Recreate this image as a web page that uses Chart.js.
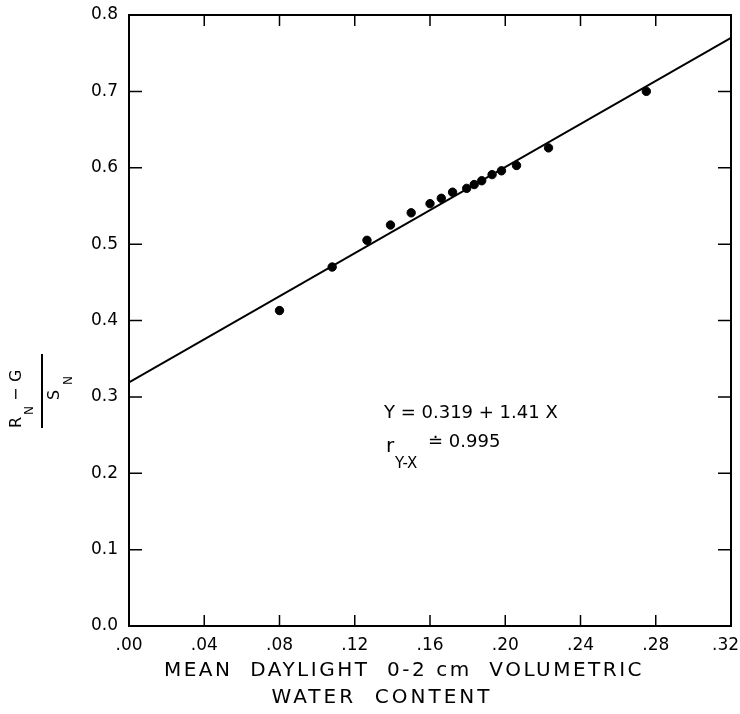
<!DOCTYPE html>
<html>
<head>
<meta charset="utf-8">
<script src="https://cdn.jsdelivr.net/npm/chart.js@4"></script>
<style>
html,body{margin:0;padding:0;background:#fff;}
#wrap{width:740px;height:714px;}
</style>
</head>
<body>
<div id="wrap"><canvas id="c" width="740" height="714"></canvas></div>
<script>
// Observed points: mean daylight 0-2 cm volumetric water content vs (Rn-G)/Sn
const waterContent = [0.080, 0.108, 0.1265, 0.139, 0.150, 0.160, 0.166, 0.172, 0.1795, 0.1835, 0.1875, 0.193, 0.198, 0.206, 0.223, 0.275];
const energyRatio  = [0.413, 0.470, 0.505, 0.525, 0.541, 0.553, 0.560, 0.568, 0.573, 0.578, 0.583, 0.591, 0.596, 0.603, 0.626, 0.700];
// Regression line end points (Y = 0.319 + 1.41 X)
const fitX = [0.00, 0.32];
const fitY = [0.319, 0.770];
// Tick values and labels
const xTickValues = [0, 0.04, 0.08, 0.12, 0.16, 0.20, 0.24, 0.28, 0.32];
const xTickLabels = ['.00', '.04', '.08', '.12', '.16', '.20', '.24', '.28', '.32  '];
const yTickValues = [0, 0.1, 0.2, 0.3, 0.4, 0.5, 0.6, 0.7, 0.8];
const yTickLabels = ['0.0', '0.1', '0.2', '0.3', '0.4', '0.5', '0.6', '0.7', '0.8'];
const xTitleLines = ['MEAN  DAYLIGHT  0-2 cm  VOLUMETRIC', 'WATER  CONTENT'];
const equationText = 'Y = 0.319 + 1.41 X';

const FONT = '"DejaVu Sans", "Liberation Sans", sans-serif';

const framePlugin = {
  id: 'frame',
  afterDraw(chart) {
    const ctx = chart.ctx;
    const a = chart.chartArea;
    const xs = chart.scales.x, ys = chart.scales.y;
    ctx.save();
    ctx.strokeStyle = '#000';
    ctx.lineWidth = 2;
    ctx.strokeRect(a.left, a.top, a.right - a.left, a.bottom - a.top);
    // inward ticks, mirrored
    ctx.lineWidth = 1.5;
    ctx.beginPath();
    xs.ticks.forEach(t => {
      const px = xs.getPixelForValue(t.value);
      ctx.moveTo(px, a.bottom); ctx.lineTo(px, a.bottom - 11);
      ctx.moveTo(px, a.top); ctx.lineTo(px, a.top + 11);
    });
    ys.ticks.forEach(t => {
      const py = ys.getPixelForValue(t.value);
      ctx.moveTo(a.left, py); ctx.lineTo(a.left + 13, py);
      ctx.moveTo(a.right, py); ctx.lineTo(a.right - 13, py);
    });
    ctx.stroke();

    ctx.fillStyle = '#000';
    // x axis title (two lines)
    ctx.font = '20px ' + FONT;
    ctx.textAlign = 'center';
    ctx.textBaseline = 'middle';
    ctx.letterSpacing = '2.5px';
    ctx.fillText(xTitleLines[0], 404, 671);
    ctx.letterSpacing = '3px';
    ctx.fillText(xTitleLines[1], 382, 698);
    ctx.letterSpacing = '0px';

    // equation annotation
    ctx.textAlign = 'left';
    ctx.textBaseline = 'alphabetic';
    ctx.font = '18px ' + FONT;
    ctx.fillText(equationText, 384, 418);
    ctx.font = '20px ' + FONT;
    ctx.fillText('r', 386, 452);
    ctx.font = '15px ' + FONT;
    ctx.fillText('Y-X', 395, 468);
    ctx.font = '18px ' + FONT;
    ctx.fillText('\u2250 0.995', 428, 447);

    // y axis label: (R_N - G) / S_N rotated
    ctx.translate(42, 391);
    ctx.rotate(-Math.PI / 2);
    ctx.font = '16px ' + FONT;
    ctx.fillText('R', -37, -21);
    ctx.font = '12px ' + FONT;
    ctx.fillText('N', -24, -9);
    ctx.font = '16px ' + FONT;
    ctx.fillText('\u2212', -10, -21);
    ctx.fillText('G', 9, -21);
    ctx.fillText('S', -9, 17);
    ctx.font = '12px ' + FONT;
    ctx.fillText('N', 6, 30);
    ctx.lineWidth = 2;
    ctx.beginPath();
    ctx.moveTo(-37, 0); ctx.lineTo(37, 0);
    ctx.stroke();
    ctx.restore();
  }
};

new Chart(document.getElementById('c'), {
  type: 'scatter',
  data: {
    datasets: [
      {
        label: 'Observed',
        data: waterContent.map((x, i) => ({ x, y: energyRatio[i] })),
        backgroundColor: '#000',
        borderColor: '#000',
        pointRadius: 4.2,
        pointHoverRadius: 4.2
      },
      {
        label: 'Regression',
        type: 'line',
        data: fitX.map((x, i) => ({ x, y: fitY[i] })),
        borderColor: '#000',
        borderWidth: 2,
        pointRadius: 0,
        fill: false
      }
    ]
  },
  options: {
    responsive: false,
    animation: false,
    devicePixelRatio: 1,
    layout: { padding: { left: 0, top: 15, right: 9, bottom: 0 } },
    plugins: { legend: { display: false }, tooltip: { enabled: false } },
    scales: {
      x: {
        type: 'linear',
        min: 0, max: 0.32,
        afterBuildTicks: s => { s.ticks = xTickValues.map(v => ({ value: v })); },
        afterFit: s => { s.height = 88; s.paddingLeft = 0; s.paddingRight = 0; },
        grid: { display: false, drawTicks: false },
        border: { display: true, color: '#000', width: 2 },
        ticks: {
          padding: 9,
          color: '#000',
          font: { family: FONT, size: 17 },
          maxRotation: 0,
          autoSkip: false,
          callback: (v, i) => xTickLabels[i]
        }
      },
      y: {
        type: 'linear',
        min: 0, max: 0.8,
        afterBuildTicks: s => { s.ticks = yTickValues.map(v => ({ value: v })); },
        afterFit: s => { s.width = 129; s.paddingTop = 0; s.paddingBottom = 0; },
        grid: { display: false, drawTicks: false },
        border: { display: true, color: '#000', width: 2 },
        ticks: {
          padding: 11,
          color: '#000',
          font: { family: FONT, size: 17 },
          autoSkip: false,
          callback: (v, i) => yTickLabels[i]
        }
      }
    }
  },
  plugins: [framePlugin]
});
</script>
</body>
</html>
